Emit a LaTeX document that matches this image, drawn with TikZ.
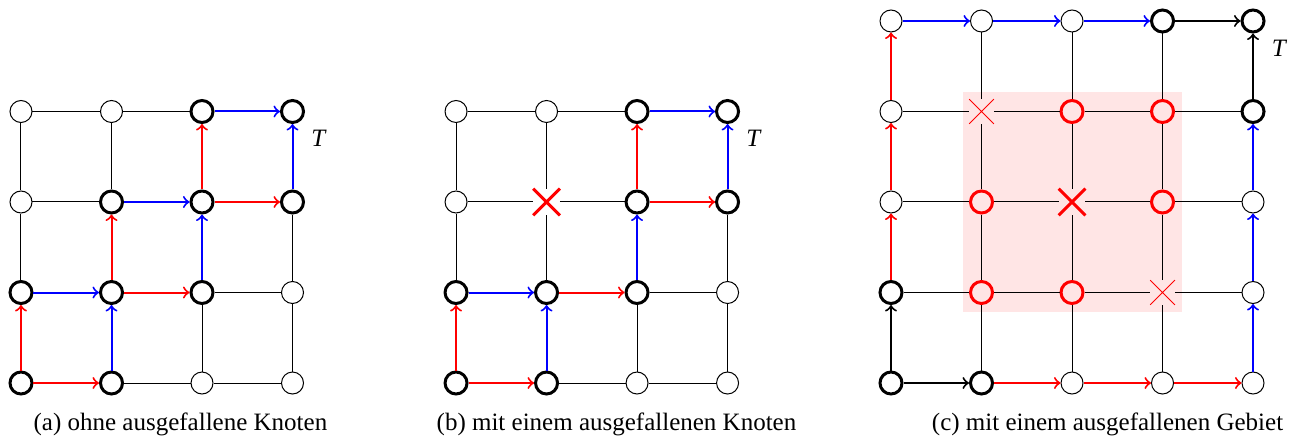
\documentclass[tikz,border=0pt]{standalone}
\usepackage{fontspec}
\setmainfont{Liberation Serif}
\usepackage{tikz}
\usetikzlibrary{shapes.misc,
                arrows}
\tikzset{knoten/.style =
   {circle,
    draw,
    minimum size=8.8pt,
    inner sep=0pt}}
\tikzset{aktiv/.style = {knoten, very thick}}
\tikzset{gebiet/.style = {knoten, very thick, red}}
\tikzset{ausfall/.style =
   {cross out,
    draw,
    red,
    very thick,
    minimum size=9.5pt,
    inner sep=0pt}}
\tikzset{ausfallklein/.style = {ausfall, thin}}
\tikzset{kante/.style = {draw, thin}}
\tikzset{pfeil/.style = {draw, thick, ->}}
\tikzset{ziel/.style = {label={[label distance=4pt, inner sep=1pt]-45:\textit{T}}}}
\colorlet{gebietfarbe}{red!10}

\begin{document}
\begin{tikzpicture}[x=36.2pt, y=36.2pt, font=\fontsize{10}{12}\selectfont]
    \useasboundingbox (-0.232,-0.619) rectangle (14.066,4.232);

    % (a) ohne Ausfall
    \foreach \x/\y in {2/0,3/0,3/1,0/2,0/3,1/3}
        \node [knoten] (a\x\y) at (\x,\y) {};
    \foreach \x/\y in {0/0,1/0,0/1,1/1,2/1,1/2,2/2,3/2,2/3}
        \node [aktiv] (a\x\y) at (\x,\y) {};
    \node [aktiv, ziel] (a33) at (3,3) {};

    \draw [kante] (a10) -- (a20) -- (a30) -- (a31) -- (a32);
    \draw [kante] (a20) -- (a21) -- (a31);
    \draw [kante] (a01) -- (a02) -- (a03) -- (a13) -- (a23);
    \draw [kante] (a02) -- (a12) -- (a13);

    \foreach \s/\z in {00/10,00/01,11/21,11/12,22/32,22/23}
        \draw [pfeil, red] (a\s) -- (a\z);
    \foreach \s/\z in {10/11,01/11,12/22,21/22,32/33,23/33}
        \draw [pfeil, blue] (a\s) -- (a\z);

    \node [anchor=base] (capa) at (1.762,-0.530) {(a) ohne ausgefallene Knoten};

    % (b) ein Knoten faellt aus
    \begin{scope}[xshift=4.807*36.2pt]
    \foreach \x/\y in {2/0,3/0,3/1,0/2,0/3,1/3}
        \node [knoten] (b\x\y) at (\x,\y) {};
    \foreach \x/\y in {0/0,1/0,0/1,1/1,2/1,2/2,3/2,2/3}
        \node [aktiv] (b\x\y) at (\x,\y) {};
    \node [aktiv, ziel] (b33) at (3,3) {};
    \node [ausfall] (b12) at (1,2) {};

    \draw [kante] (b10) -- (b20) -- (b30) -- (b31) -- (b32);
    \draw [kante] (b20) -- (b21) -- (b31);
    \draw [kante] (b01) -- (b02) -- (b03) -- (b13) -- (b23);
    \draw [kante] (b02) -- (b12) -- (b22);
    \draw [kante] (b11) -- (b12) -- (b13);

    \foreach \s/\z in {00/10,00/01,11/21,22/32,22/23}
        \draw [pfeil, red] (b\s) -- (b\z);
    \foreach \s/\z in {10/11,01/11,21/22,32/33,23/33}
        \draw [pfeil, blue] (b\s) -- (b\z);
    \end{scope}

    \node [anchor=base] (capb) at (6.580,-0.530) {(b) mit einem ausgefallenen Knoten};

    % (c) ein ganzes Gebiet faellt aus
    \begin{scope}[xshift=9.613*36.2pt]
    \fill [gebietfarbe] (0.79,0.79) rectangle (3.21,3.21);

    \foreach \x/\y in {2/0,3/0,4/0,4/1,4/2,0/2,0/3,0/4,1/4,2/4}
        \node [knoten] (c\x\y) at (\x,\y) {};
    \foreach \x/\y in {0/0,1/0,0/1,3/4,4/3}
        \node [aktiv] (c\x\y) at (\x,\y) {};
    \node [aktiv, ziel] (c44) at (4,4) {};
    \foreach \x/\y in {1/1,2/1,1/2,3/2,2/3,3/3}
        \node [gebiet] (c\x\y) at (\x,\y) {};
    \node [ausfall] (c22) at (2,2) {};
    \node [ausfallklein] (c13) at (1,3) {};
    \node [ausfallklein] (c31) at (3,1) {};

    \foreach \j in {1,2,3}
        \draw [kante] (c0\j) -- (c1\j) -- (c2\j) -- (c3\j) -- (c4\j);
    \foreach \i in {1,2,3}
        \draw [kante] (c\i0) -- (c\i1) -- (c\i2) -- (c\i3) -- (c\i4);

    \foreach \s/\z in {00/10,00/01,34/44,43/44}
        \draw [pfeil] (c\s) -- (c\z);
    \foreach \s/\z in {10/20,20/30,30/40,01/02,02/03,03/04}
        \draw [pfeil, red] (c\s) -- (c\z);
    \foreach \s/\z in {04/14,14/24,24/34,40/41,41/42,42/43}
        \draw [pfeil, blue] (c\s) -- (c\z);
    \end{scope}

    \node [anchor=base] (capc) at (12.006,-0.530) {(c) mit einem ausgefallenen Gebiet};

\end{tikzpicture}
\end{document}
